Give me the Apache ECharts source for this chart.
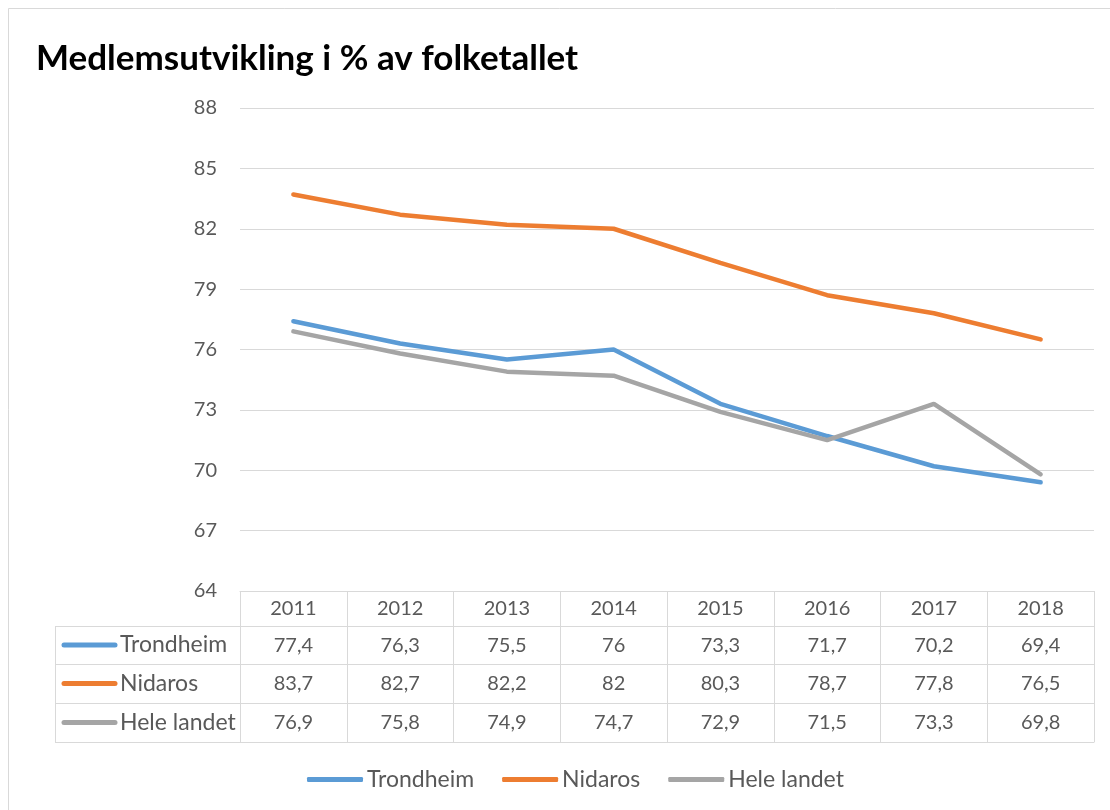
<!DOCTYPE html>
<html>
<head>
<meta charset="utf-8">
<script src="https://cdn.jsdelivr.net/npm/echarts@6/dist/echarts.min.js"></script>
<style>html,body{margin:0;padding:0;background:#fff}#c{width:1110px;height:810px}</style>
</head>
<body>
<div id="c"></div>
<script>
const title = 'Medlemsutvikling i % av folketallet';
const years = ['2011','2012','2013','2014','2015','2016','2017','2018'];
const seriesNames = ['Trondheim','Nidaros','Hele landet'];
const trondheim = [77.4,76.3,75.5,76,73.3,71.7,70.2,69.4];
const nidaros = [83.7,82.7,82.2,82,80.3,78.7,77.8,76.5];
const heleLandet = [76.9,75.8,74.9,74.7,72.9,71.5,73.3,69.8];
const yTicks = [64,67,70,73,76,79,82,85,88];
const colors = ['#5B9BD5','#ED7D31','#A5A5A5'];

const values = [trondheim, nidaros, heleLandet];
const FONT = 'Lato';
const TXT = '#595959';
const GRIDC = '#d9d9d9';
const NUMSIZE = 20, NAMESIZE = 23;
const fmt = v => String(v).replace('.', ',');

const gridLeft = 240, gridRight = 16, gridTop = 108, gridBottom = 219;
const plotBottom = 810 - gridBottom; // 591
const rowH = [35, 38, 39, 39];
const offs = [0];
for (let i = 0; i < rowH.length; i++) offs.push(offs[i] + rowH[i]);

const chart = echarts.init(document.getElementById('c'));

const xAxes = [];
xAxes.push({
  type: 'category', data: years, position: 'bottom', offset: 0, gridIndex: 0,
  boundaryGap: true,
  axisLine: { show: true, lineStyle: { color: GRIDC, width: 1 } },
  axisTick: { show: true, length: rowH[0], interval: 0, lineStyle: { color: GRIDC } },
  axisLabel: { interval: 0, margin: 7, color: TXT, fontSize: NUMSIZE, fontFamily: FONT, lineHeight: 22 },
  splitLine: { show: false }
});
values.forEach((arr, i) => {
  xAxes.push({
    type: 'category', data: years, position: 'bottom', offset: offs[i + 1], gridIndex: 0,
    boundaryGap: true,
    axisLine: { show: true, lineStyle: { color: GRIDC, width: 1 } },
    axisTick: { show: true, length: rowH[i + 1], interval: 0, lineStyle: { color: GRIDC } },
    axisLabel: { interval: 0, margin: 9, color: TXT, fontSize: NUMSIZE, fontFamily: FONT, lineHeight: 22,
      formatter: (val, idx) => fmt(arr[idx]) },
    splitLine: { show: false }
  });
});
xAxes.push({
  type: 'category', data: years, position: 'bottom', offset: offs[4], gridIndex: 0,
  axisLine: { show: true, lineStyle: { color: GRIDC, width: 1 } },
  axisTick: { show: false }, axisLabel: { show: false }, splitLine: { show: false }
});

const graphics = [];
graphics.push({ type: 'rect', shape: { x: 8.5, y: 8.5, width: 1110, height: 810 },
  style: { fill: 'none', stroke: GRIDC, lineWidth: 1 }, silent: true });
const tabLeft = 55;
const yLine = k => plotBottom + offs[k] + 0.5;
for (let k = 1; k <= 4; k++) {
  graphics.push({ type: 'line', shape: { x1: tabLeft, y1: yLine(k), x2: gridLeft, y2: yLine(k) },
    style: { stroke: GRIDC, lineWidth: 1 }, silent: true });
}
graphics.push({ type: 'line', shape: { x1: tabLeft + 0.5, y1: yLine(1), x2: tabLeft + 0.5, y2: yLine(4) },
  style: { stroke: GRIDC, lineWidth: 1 }, silent: true });
seriesNames.forEach((n, i) => {
  const cy = plotBottom + offs[i + 1] + rowH[i + 1] / 2;
  graphics.push({ type: 'line', shape: { x1: 64, y1: cy, x2: 115, y2: cy },
    style: { stroke: colors[i], lineWidth: 5, lineCap: 'round' }, silent: true });
  graphics.push({ type: 'text', x: 120, y: cy,
    style: { text: n, fill: TXT, font: NAMESIZE + 'px ' + FONT, verticalAlign: 'middle' }, silent: true });
});

chart.setOption({
  animation: false,
  backgroundColor: '#fff',
  color: colors,
  title: { text: title, left: 31, top: 36,
    textStyle: { fontFamily: FONT, fontSize: 35, fontWeight: 'bold', color: '#000' } },
  grid: { left: gridLeft, right: gridRight, top: gridTop, bottom: gridBottom, containLabel: false },
  legend: {
    data: seriesNames, bottom: 14, left: 302, icon: 'roundRect',
    itemWidth: 56, itemHeight: 5, itemGap: 28,
    textStyle: { color: TXT, fontSize: NAMESIZE, fontFamily: FONT, padding: [0, 0, 0, -1] }
  },
  xAxis: xAxes,
  yAxis: {
    type: 'value', min: 64, max: 88,
    axisLine: { show: false },
    axisTick: { show: false, customValues: yTicks },
    axisLabel: { customValues: yTicks, margin: 23, color: TXT, fontSize: NUMSIZE, fontFamily: FONT },
    splitLine: { show: true, lineStyle: { color: GRIDC, width: 1 } }
  },
  graphic: graphics,
  series: values.map((arr, i) => ({
    name: seriesNames[i], type: 'line', data: arr, xAxisIndex: 0,
    symbol: 'none', smooth: false,
    lineStyle: { width: 4.5, color: colors[i], cap: 'round' },
    itemStyle: { color: colors[i] }
  }))
});
</script>
</body>
</html>
